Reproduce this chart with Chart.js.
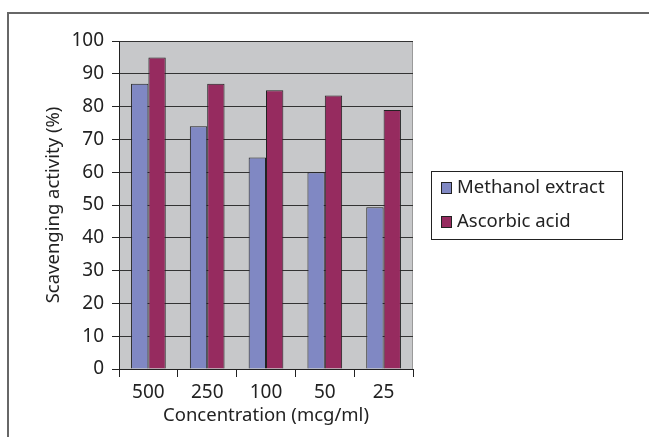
<!DOCTYPE html>
<html>
<head>
<meta charset="utf-8">
<script src="https://cdn.jsdelivr.net/npm/chart.js@4"></script>
<style>
  html, body { margin: 0; padding: 0; background: #fff; }
  #wrap { position: relative; width: 649px; height: 437px; overflow: hidden; }
  #frame { position: absolute; left: 7px; top: 12px; width: 700px; height: 500px;
           border-top: 2px solid #676767; border-left: 2px solid #676767; }
  canvas { position: absolute; left: 0; top: 0; }
</style>
</head>
<body>
<div id="wrap">
  <div id="frame"></div>
  <canvas id="chart" width="649" height="437"></canvas>
</div>
<script>
const categories = ["500", "250", "100", "50", "25"];
const methanolExtract = [87, 74, 64.5, 60, 49.3];
const ascorbicAcid = [95, 87, 85, 83.4, 79];
const seriesNames = ["Methanol extract", "Ascorbic acid"];
const seriesColors = ["#8088c3", "#962b5f"];

const FONT = "'Noto Sans', sans-serif";

// gray plot background
const plotBg = {
  id: "plotBg",
  beforeDraw(chart) {
    const a = chart.chartArea, ctx = chart.ctx;
    ctx.save();
    ctx.fillStyle = "#c7c8ca";
    ctx.fillRect(a.left, a.top, a.right - a.left, a.bottom - a.top);
    ctx.strokeStyle = "#9a9a9a";
    ctx.lineWidth = 1;
    ctx.beginPath();
    ctx.moveTo(a.right - 0.5, a.top);
    ctx.lineTo(a.right - 0.5, a.bottom);
    ctx.stroke();
    ctx.restore();
  }
};

// boxed legend on the right, built from the datasets
const boxLegend = {
  id: "boxLegend",
  afterDraw(chart) {
    const ctx = chart.ctx;
    const x = 431, y = 171, w = 191, h = 68;
    ctx.save();
    ctx.strokeStyle = "#222";
    ctx.lineWidth = 1;
    ctx.strokeRect(x + 0.5, y + 0.5, w, h);
    ctx.font = "18.5px " + FONT;
    ctx.textBaseline = "middle";
    chart.data.datasets.forEach((ds, i) => {
      const cy = y + 17 + i * 34;
      ctx.fillStyle = ds.backgroundColor;
      ctx.fillRect(441.5, cy - 5.5, 10, 11);
      ctx.strokeStyle = "#222";
      ctx.strokeRect(441.5, cy - 5.5, 10, 11);
      ctx.fillStyle = "#222";
      ctx.fillText(ds.label, 457, cy);
    });
    ctx.restore();
  }
};

new Chart(document.getElementById("chart"), {
  type: "bar",
  data: {
    labels: categories,
    datasets: [
      { label: seriesNames[0], data: methanolExtract, backgroundColor: seriesColors[0] },
      { label: seriesNames[1], data: ascorbicAcid, backgroundColor: seriesColors[1] }
    ]
  },
  options: {
    responsive: false,
    animation: false,
    layout: { padding: { left: 0, top: 41, right: 236, bottom: 0 } },
    datasets: {
      bar: {
        categoryPercentage: 0.59,
        barPercentage: 1,
        borderColor: "#222",
        borderWidth: 1
      }
    },
    plugins: {
      legend: { display: false },
      tooltip: { enabled: false }
    },
    scales: {
      x: {
        afterFit(s) { s.height = 68; },
        grid: { offset: true, drawOnChartArea: false, drawTicks: true, tickLength: 8, color: "#222" },
        border: { display: true, color: "#222" },
        ticks: { color: "#222", padding: 4, font: { family: FONT, size: 19 } },
        title: { display: true, text: "Concentration (mcg/ml)", color: "#222",
                 padding: { top: 0, bottom: 10 }, font: { family: FONT, size: 18.5 } }
      },
      y: {
        min: 0,
        max: 100,
        afterFit(s) { s.width = 119; },
        grid: { color: "#333", lineWidth: 1, drawTicks: true, tickLength: 7, tickColor: "#222" },
        border: { display: true, color: "#222" },
        ticks: { stepSize: 10, color: "#222", padding: 8, font: { family: FONT, size: 19 } },
        title: { display: true, text: "Scavenging activity (%)", color: "#222",
                 padding: { top: 43, bottom: 0 }, font: { family: FONT, size: 18.5 } }
      }
    }
  },
  plugins: [plotBg, boxLegend]
});
</script>
</body>
</html>
